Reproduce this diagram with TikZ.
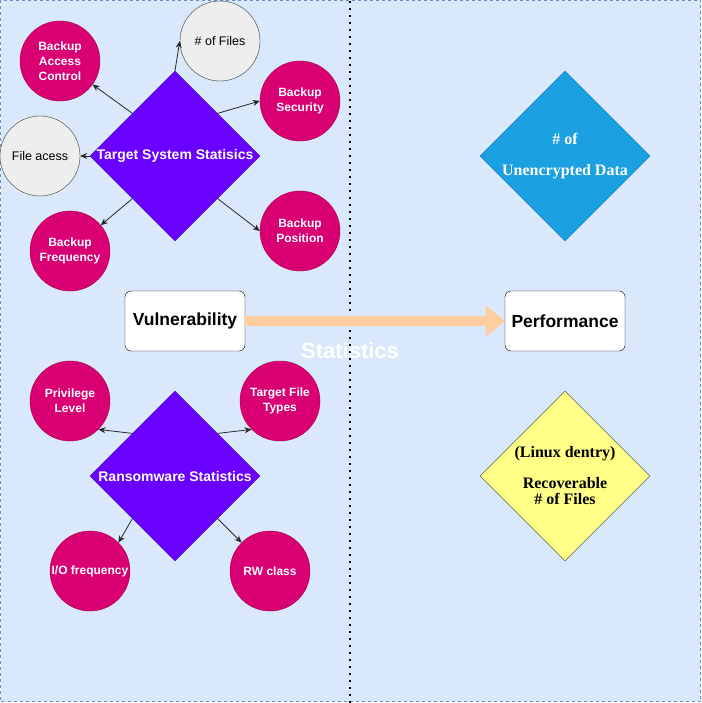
\documentclass[tikz,border=0pt]{standalone}
\usepackage{fontspec}
\setmainfont{Liberation Serif}
\setsansfont{Liberation Sans}
\usepackage{tikz}
\usetikzlibrary{shapes.geometric,arrows.meta}

\definecolor{bgblue}{HTML}{DAE8FC}
\definecolor{bgedge}{HTML}{6C8EBF}
\definecolor{redfill}{HTML}{D80073}
\definecolor{redline}{HTML}{A50040}
\definecolor{greyfill}{HTML}{EEEEEE}
\definecolor{greyline}{HTML}{36393D}
\definecolor{violfill}{HTML}{6A00FF}
\definecolor{violline}{HTML}{3700CC}
\definecolor{cyanfill}{HTML}{1BA1E2}
\definecolor{cyanline}{HTML}{006EAF}
\definecolor{yelfill}{HTML}{FFFF88}
\definecolor{peach}{HTML}{FFCE9F}

\tikzset{
    redc/.style={circle, draw=redline, fill=redfill, minimum size=80pt, inner sep=0pt},
    greyc/.style={circle, draw=greyline, fill=greyfill, minimum size=80pt, inner sep=0pt},
    whitetxt/.style={text=white, align=center, font=\sffamily\bfseries\fontsize{12}{15}\selectfont},
    blacktxt/.style={text=black, align=center, font=\sffamily\fontsize{12.5}{15}\selectfont},
    diamtxt/.style={text=white, font=\sffamily\bfseries\fontsize{14}{16}\selectfont},
    bigdiam/.style={diamond, aspect=1, minimum width=170pt, minimum height=170pt, inner sep=0pt},
    statbox/.style={rectangle, rounded corners=6pt, draw=black, fill=white, minimum width=120pt,
        minimum height=60pt, font=\sffamily\bfseries\fontsize{17.5}{20}\selectfont},
    link/.style={draw=black!85, line width=0.8pt, -{Stealth[length=7pt,width=6pt]}}
}

\begin{document}
\begin{tikzpicture}[x=1pt, y=-1pt]
        \useasboundingbox (0,0) rectangle (701,703);
        \fill[bgblue] (0.5,0.5) rectangle (700.5,701.5);
        \draw[bgedge, dashed, line width=0.6pt] (0.5,0.5) rectangle (700.5,701.5);
        \draw[line width=1.6pt, dash pattern=on 1.6pt off 5.4pt] (350,1) -- (350,703);

        % target system side
        \node[bigdiam, fill=violfill, draw=violline, label={[diamtxt]center:Target System Statisics}] (tss) at (175,156) {};
        \node[redc, label={[whitetxt]center:Backup\\Access\\Control}] (bac) at (60,61) {};
        \node[greyc, label={[blacktxt]center:\# of Files}] (nfiles) at (220,41) {};
        \node[redc, label={[whitetxt]center:Backup\\Security}] (bsec) at (300,101) {};
        \node[greyc, label={[blacktxt]center:File acess}] (facc) at (40,156) {};
        \node[redc, label={[whitetxt]center:Backup\\Frequency}] (bfreq) at (70,251) {};
        \node[redc, label={[whitetxt]center:Backup\\Position}] (bpos) at (300,231) {};
        \draw[link] (tss.north) -- (nfiles.west);
        \draw[link] (tss.north west) -- (bac);
        \draw[link] (tss.north east) -- (bsec.west);
        \draw[link] (tss.west) -- (facc.east);
        \draw[link] (tss.south west) -- (bfreq);
        \draw[link] (tss.south east) -- (bpos.west);

        % ransomware side
        \node[bigdiam, fill=violfill, draw=violline, label={[diamtxt]center:Ransomware Statistics}] (rws) at (175,476) {};
        \node[redc, label={[whitetxt]center:Privilege\\Level}] (priv) at (70,401) {};
        \node[redc, label={[whitetxt]center:Target File\\Types}] (tft) at (280,401) {};
        \node[redc, label={[whitetxt]center:I/O frequency}] (iof) at (90,571) {};
        \node[redc, label={[whitetxt]center:RW class}] (rwc) at (270,571) {};
        \draw[link] (rws.north west) -- (priv.south east);
        \draw[link] (rws.north east) -- (tft.south west);
        \draw[link] (rws.south west) -- (iof.north east);
        \draw[link] (rws.south east) -- (rwc.north west);

        % middle row
        \node[statbox] (vul) at (185,321) {Vulnerability};
        \node[statbox] (perf) at (565,321) {Performance};
        \draw[peach, line width=10pt, -{Triangle[length=19pt,width=30pt]}] (vul.east) -- (perf.west);
        \node[text=white, font=\sffamily\bfseries\fontsize{22}{24}\selectfont] (stat) at (350,351) {Statistics};

        % performance side
        \node[bigdiam, fill=cyanfill, draw=cyanline, label={[text=white, align=center, font=\rmfamily\bfseries\fontsize{16}{31}\selectfont]center:\# of\\Unencrypted Data}] (unenc) at (565,156) {};
        \node[bigdiam, fill=yelfill, draw=greyline, label={[text=black, align=center, font=\rmfamily\bfseries\fontsize{16}{16}\selectfont]center:(Linux dentry)\\[15pt]Recoverable\\\# of Files}] (recov) at (565,476) {};
\end{tikzpicture}
\end{document}
